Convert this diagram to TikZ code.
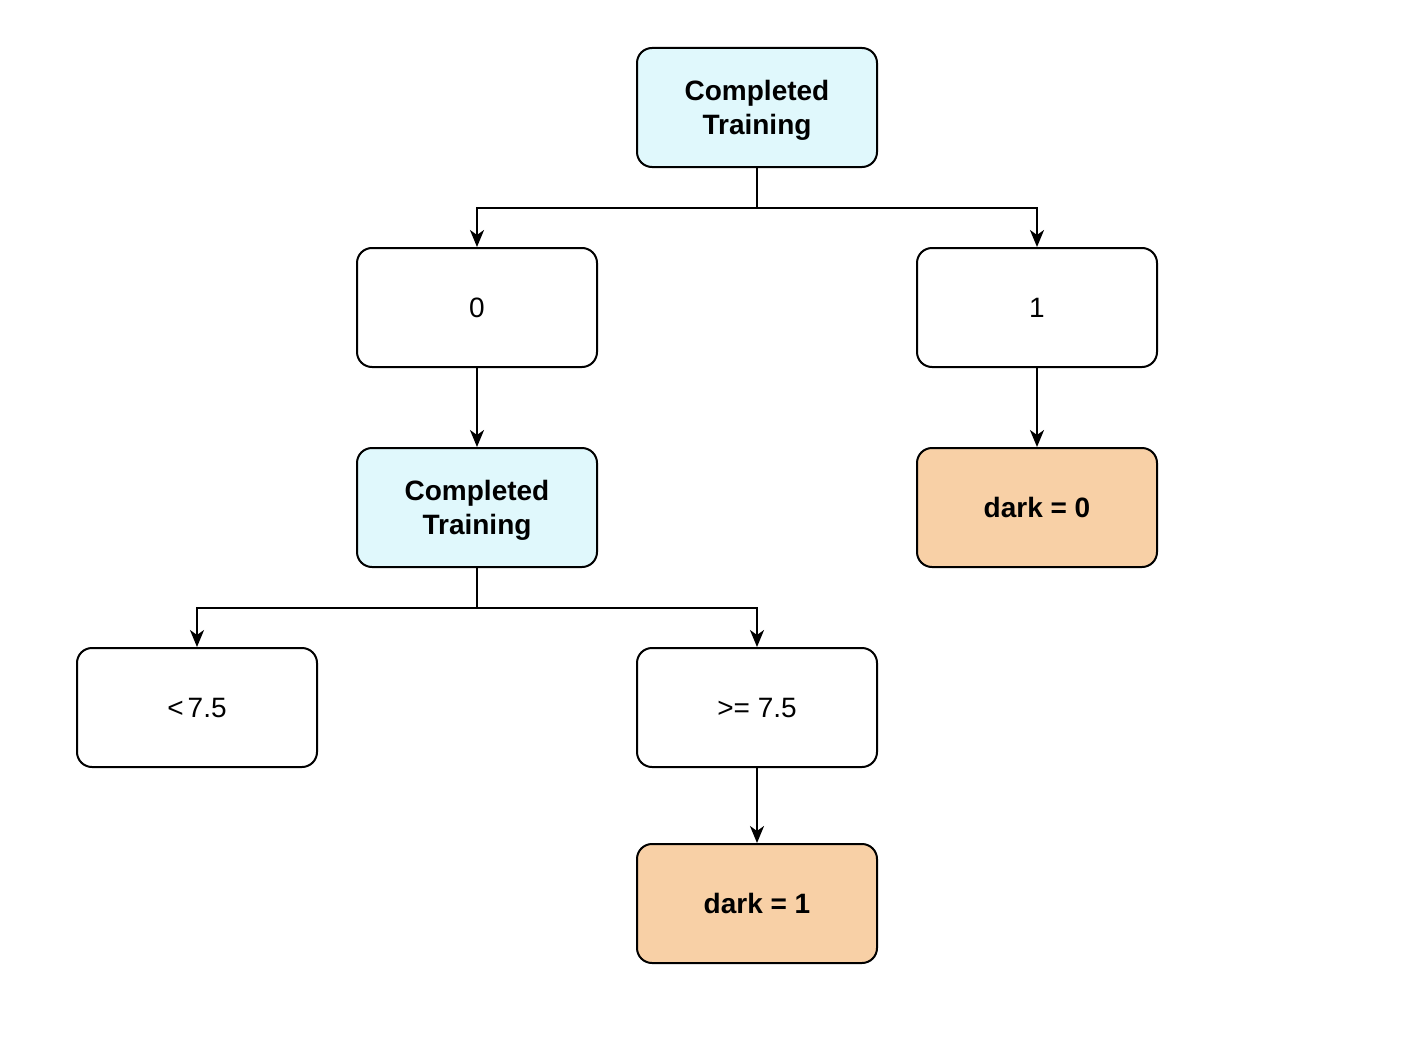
\documentclass[tikz,border=0pt]{standalone}
\usepackage{fontspec}
\setmainfont{Liberation Sans}
\usetikzlibrary{arrows.meta}
\definecolor{cyanfill}{HTML}{E0F8FC}
\definecolor{orangefill}{HTML}{F8D0A6}
\newcommand{\twolines}[2]{\raisebox{-3pt}[\height][\depth]{\begin{tabular}{@{}c@{}}#1\\#2\end{tabular}}}
\begin{document}
\begin{tikzpicture}[x=1pt,y=-1pt,
  box/.style={draw=black,line width=2pt,rounded corners=15pt,minimum width=240pt,minimum height=119pt,inner sep=0pt,align=center,font=\fontsize{28}{34}\selectfont},
  split/.style={box,fill=cyanfill,font=\fontsize{28}{34}\selectfont\bfseries},
  leaf/.style={box,fill=orangefill,font=\fontsize{28}{34}\selectfont\bfseries},
  value/.style={box,fill=white},
  link/.style={line width=2pt,-{Stealth[length=17pt,width=14pt,inset=5pt]}}]
\useasboundingbox (0,0) rectangle (1412,1038);
% tree nodes
\node[split] (root) at (757,107.5) {\twolines{Completed}{Training}};
\node[value] (zero) at (477,307.5) {0};
\node[value] (one) at (1037,307.5) {1};
\node[split] (sub) at (477,507.5) {\twolines{Completed}{Training}};
\node[leaf] (dark0) at (1037,507.5) {dark = 0};
\node[value] (lt) at (197,707.5) {<\kern4pt7.5};
\node[value] (ge) at (757,707.5) {>= 7.5};
\node[leaf] (dark1) at (757,903.5) {dark = 1};
% connectors
\draw[link] (root.south) |- (757,208) -| (zero.north);
\draw[link] (root.south) |- (757,208) -| (one.north);
\draw[link] (zero) -- (sub);
\draw[link] (one) -- (dark0);
\draw[link] (sub.south) |- (477,608) -| (lt.north);
\draw[link] (sub.south) |- (477,608) -| (ge.north);
\draw[link] (ge) -- (dark1);
\end{tikzpicture}
\end{document}
